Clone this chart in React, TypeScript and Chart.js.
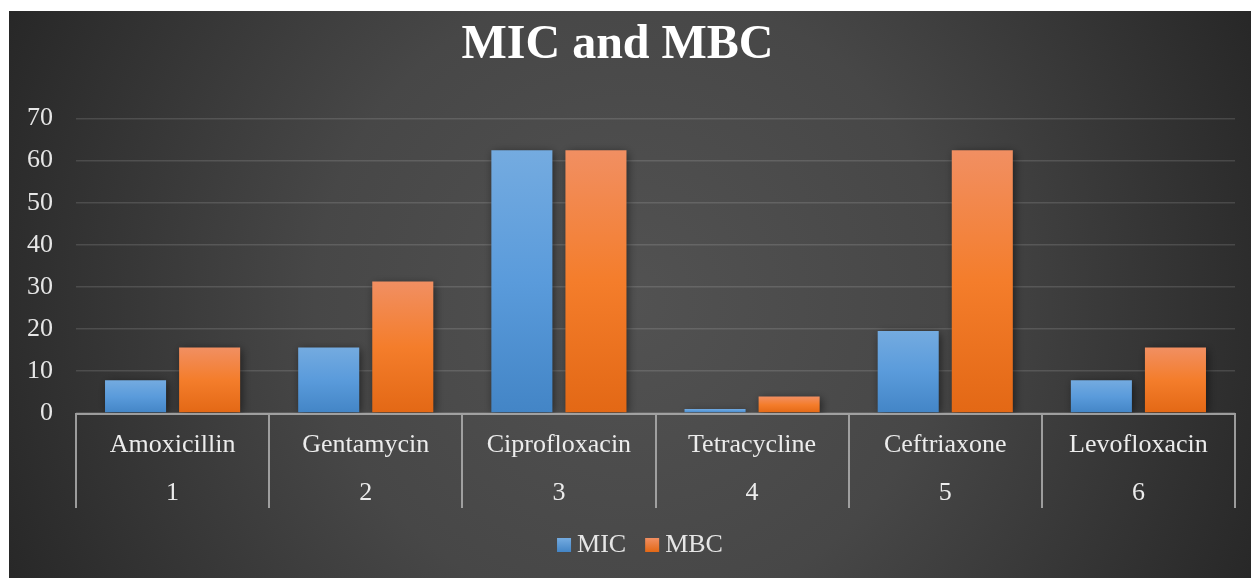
import React, { useEffect, useRef } from 'react';
import { Chart, registerables } from 'chart.js';

Chart.register(...registerables);

const categories = ['Amoxicillin', 'Gentamycin', 'Ciprofloxacin', 'Tetracycline', 'Ceftriaxone', 'Levofloxacin'];
const groupNumbers = ['1', '2', '3', '4', '5', '6'];
const seriesNames = ['MIC', 'MBC'];
const micValues = [7.8, 15.6, 62.5, 0.98, 19.5, 7.8];
const mbcValues = [15.6, 31.25, 62.5, 3.9, 62.5, 15.6];
const yMin = 0;
const yMax = 70;
const yStep = 10;

const FONT = '"Liberation Serif", "Times New Roman", serif';
const W = 1251;
const H = 578;

const blueStops = ['#74abe0', '#5a9bdb', '#4385c6'];
const orangeStops = ['#f18f62', '#f47d2b', '#e36815'];
const legendColors = [blueStops, orangeStops];

function barGradient(stops: string[], solid: string) {
  return (ctx: any) => {
    const chart = ctx.chart;
    const ys = chart.scales && chart.scales.y;
    if (!ys || ctx.raw == null || typeof ctx.raw !== 'number') return solid;
    const top = ys.getPixelForValue(ctx.raw);
    const bottom = ys.getPixelForValue(0);
    if (!isFinite(top) || !isFinite(bottom) || bottom - top < 0.5) return solid;
    const g = chart.ctx.createLinearGradient(0, top, 0, bottom);
    g.addColorStop(0, stops[0]);
    g.addColorStop(0.5, stops[1]);
    g.addColorStop(1, stops[2]);
    return g;
  };
}

const backgroundPlugin = {
  id: 'bgPlugin',
  beforeDraw(chart: any) {
    const c = chart.ctx;
    c.save();
    c.fillStyle = '#ffffff';
    c.fillRect(0, 0, W, H);
    const g = c.createRadialGradient(630, 300, 0, 630, 300, 700);
    g.addColorStop(0, '#525252');
    g.addColorStop(0.45, '#474747');
    g.addColorStop(1, '#262626');
    c.fillStyle = g;
    c.fillRect(9, 11, W - 9, H - 11);
    c.restore();
  },
};

const shadowPlugin = {
  id: 'shadowPlugin',
  beforeDatasetsDraw(chart: any) {
    const c = chart.ctx;
    c.save();
    c.shadowColor = 'rgba(0,0,0,0.55)';
    c.shadowBlur = 9;
    c.shadowOffsetX = 2;
    c.shadowOffsetY = 2;
  },
  afterDatasetsDraw(chart: any) {
    chart.ctx.restore();
  },
};

const separatorPlugin = {
  id: 'separatorPlugin',
  afterDraw(chart: any) {
    const xs = chart.scales.x;
    const area = chart.chartArea;
    const c = chart.ctx;
    const n = categories.length;
    const step = (xs.right - xs.left) / n;
    c.save();
    c.strokeStyle = 'rgba(175,175,175,0.85)';
    c.lineWidth = 2;
    c.beginPath();
    for (let i = 0; i <= n; i++) {
      const x = Math.round(xs.left + i * step);
      c.moveTo(x, area.bottom);
      c.lineTo(x, area.bottom + 95);
    }
    c.moveTo(xs.left - 1, area.bottom + 1);
    c.lineTo(xs.right + 1, area.bottom + 1);
    c.stroke();
    c.restore();
  },
};

const legendPlugin = {
  id: 'customLegend',
  afterDraw(chart: any) {
    const c = chart.ctx;
    const area = chart.chartArea;
    c.save();
    c.font = `26px ${FONT}`;
    c.textBaseline = 'alphabetic';
    c.textAlign = 'left';
    const boxSize = 14;
    const gapBoxText = 6;
    const gapItems = 19;
    const widths = seriesNames.map((s) => boxSize + gapBoxText + c.measureText(s).width);
    const total = widths.reduce((a, b) => a + b, 0) + gapItems * (seriesNames.length - 1);
    let x = (9 + W) / 2 + 10 - total / 2;
    const baseline = area.bottom + 139;
    seriesNames.forEach((name, i) => {
      const stops = legendColors[i];
      const top = baseline - 14;
      const g = c.createLinearGradient(0, top, 0, top + boxSize);
      g.addColorStop(0, stops[0]);
      g.addColorStop(1, stops[2]);
      c.fillStyle = g;
      c.fillRect(x, top, boxSize, boxSize);
      c.fillStyle = '#e6e6e6';
      c.fillText(name, x + boxSize + gapBoxText, baseline);
      x += widths[i] + gapItems;
    });
    c.restore();
  },
};

export default function App() {
  const ref = useRef<HTMLCanvasElement | null>(null);

  useEffect(() => {
    if (!ref.current) return;
    const chart = new Chart(ref.current, {
      type: 'bar',
      data: {
        labels: categories.map((c, i) => [c, groupNumbers[i]]),
        datasets: [
          {
            label: seriesNames[0],
            data: micValues,
            backgroundColor: barGradient(blueStops, '#5b9bd5'),
            borderWidth: 0,
          },
          {
            label: seriesNames[1],
            data: mbcValues,
            backgroundColor: barGradient(orangeStops, '#ed7d31'),
            borderWidth: 0,
          },
        ],
      },
      options: {
        responsive: false,
        animation: false,
        devicePixelRatio: 1,
        datasets: {
          bar: {
            categoryPercentage: 0.767,
            barPercentage: 0.824,
          },
        },
        layout: {
          padding: { left: 0, right: 16, top: 0, bottom: 58 },
        },
        plugins: {
          title: {
            display: true,
            text: 'MIC and MBC',
            color: '#ffffff',
            font: { family: FONT, size: 48, weight: 'bold' },
            padding: { top: 17, bottom: 44 },
          },
          legend: { display: false },
          tooltip: { enabled: false },
        },
        scales: {
          x: {
            offset: true,
            grid: { display: false, drawTicks: false },
            border: { display: false },
            ticks: {
              color: '#ececec',
              font: { family: FONT, size: 26, lineHeight: 1.846 },
              padding: 8,
              maxRotation: 0,
              autoSkip: false,
            },
            afterFit: (scale: any) => {
              scale.height = 107;
            },
          },
          y: {
            min: yMin,
            max: yMax,
            ticks: {
              stepSize: yStep,
              color: '#e6e6e6',
              font: { family: FONT, size: 26 },
              padding: 23,
            },
            grid: {
              color: 'rgba(255,255,255,0.13)',
              lineWidth: 1.5,
              drawTicks: false,
            },
            border: { display: false },
            afterFit: (scale: any) => {
              scale.width = 76;
            },
          },
        },
      },
      plugins: [backgroundPlugin, shadowPlugin, separatorPlugin, legendPlugin],
    } as any);
    return () => chart.destroy();
  }, []);

  return (
    <div style={{ position: 'fixed', left: 0, top: 0, width: W, height: H }}>
      <canvas ref={ref} width={W} height={H} style={{ width: W, height: H, display: 'block' }} />
    </div>
  );
}
